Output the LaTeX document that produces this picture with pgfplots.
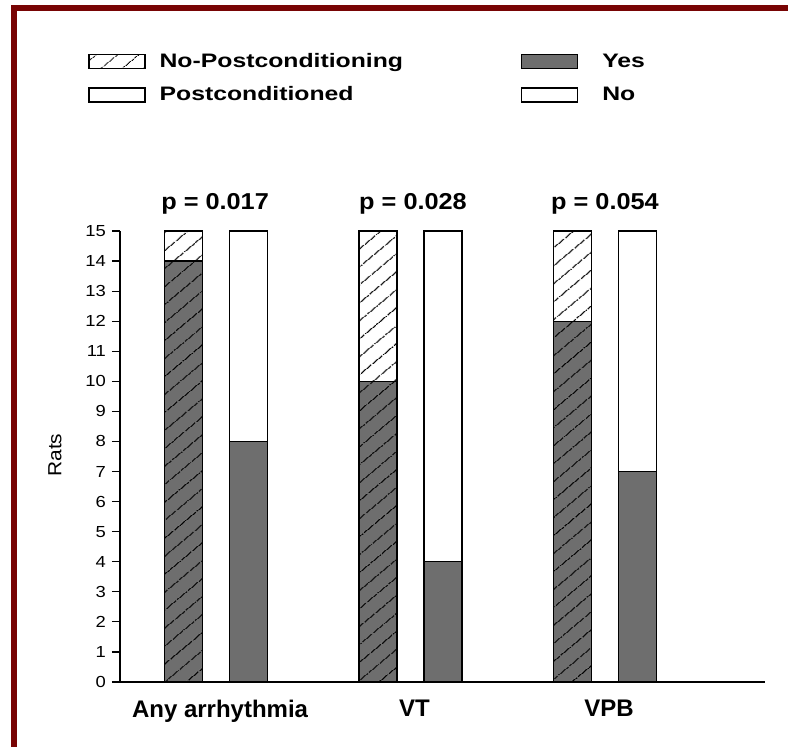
\documentclass[border=0pt]{standalone}
\usepackage{pgfplots}
\pgfplotsset{compat=1.18}
\usepackage{pgfplotstable}
\usepackage{fontspec}
\setmainfont{Liberation Sans}
\newfontfamily\legfont[FakeStretch=1.27]{Liberation Sans}
\newfontfamily\pfont[FakeStretch=1.1]{Liberation Sans}
\newfontfamily\tickfont[FakeStretch=1.15]{Liberation Sans}
\newfontfamily\labfont[FakeStretch=1.1]{Liberation Sans}
\usetikzlibrary{patterns.meta}
\definecolor{frame}{RGB}{120,4,4}
\definecolor{bargray}{RGB}{110,110,110}

\pgfplotstableread{
x yes no
1 14 1
2 10 5
3 12 3
}\nopost
\pgfplotstableread{
x yes no
1 8 7
2 4 11
3 7 8
}\post

\tikzset{hatch/.style={postaction={pattern={Lines[angle=40,distance=6.9pt,line width=0.55pt]},pattern color=black}}}

\begin{document}
\begin{tikzpicture}
\useasboundingbox (0,0) rectangle (394pt,-373.5pt);
\fill[white] (0,0) rectangle (394pt,-373.5pt);
\draw[frame, line width=3pt] (6.75pt,-373.5pt) -- (6.75pt,-4pt) -- (394pt,-4pt);
\begin{axis}[
  scale only axis, width=322.5pt, height=225.5pt,
  at={(60pt,-341pt)}, anchor=south west,
  xmin=0.506, xmax=3.823, ymin=0, ymax=15,
  axis x line*=bottom, axis y line*=left,
  axis line style={line width=0.7pt, -},
  ytick={0,1,...,15},
  xtick={1,2,3}, xticklabels={Any arrhythmia, VT, VPB},
  x tick style={draw=none},
  y tick style={line width=0.6pt, black},
  tick align=outside, major tick length=4pt,
  /pgf/number format/assume math mode=true,
  yticklabel style={font=\tickfont\fontsize{8}{8}\selectfont, xshift=0.5pt},
  xticklabel style={font=\bfseries\fontsize{12}{12}\selectfont, yshift=-1.5pt, xshift=2pt},
  ylabel={Rats},
  every axis y label/.style={at={(axis description cs:-0.1008,0.503)}, rotate=90, anchor=center, font=\labfont\fontsize{9.5}{9.5}\selectfont},
  clip=false,
  legend columns=2,
  legend cell align=left,
  legend image code/.code={\draw[#1] (0pt,-3.5pt) rectangle (28pt,3.5pt);},
  legend style={draw=none, fill=none, font=\legfont\bfseries\fontsize{9.75}{9.75}\selectfont,
    at={(axis description cs:-0.0589,1.4127)}, anchor=north west,
    row sep=4pt,
    /tikz/column 1/.style={column sep=5pt},
    /tikz/column 2/.style={column sep=57pt},
    /tikz/column 3/.style={column sep=10pt}},
]
\addlegendimage{fill=white, draw=black, line width=0.6pt, hatch}
\addlegendentry{No-Postconditioning}
\addlegendimage{fill=bargray, draw=black, line width=0.6pt}
\addlegendentry{Yes}
\addlegendimage{fill=white, draw=black, line width=0.6pt}
\addlegendentry{Postconditioned}
\addlegendimage{fill=white, draw=black, line width=0.6pt}
\addlegendentry{No}

\addplot[ybar, forget plot, bar width=19pt, bar shift=-16.25pt, fill=white, draw=black, line width=0.6pt, hatch]
  table[x=x, y expr=\thisrow{yes}+\thisrow{no}] {\nopost};
\addplot[ybar, forget plot, bar width=19pt, bar shift=-16.25pt, fill=bargray, draw=black, line width=0.6pt, hatch]
  table[x=x, y=yes] {\nopost};
\addplot[ybar, forget plot, bar width=19pt, bar shift=16.25pt, fill=white, draw=black, line width=0.6pt]
  table[x=x, y expr=\thisrow{yes}+\thisrow{no}] {\post};
\addplot[ybar, forget plot, bar width=19pt, bar shift=16.25pt, fill=bargray, draw=black, line width=0.6pt]
  table[x=x, y=yes] {\post};

\node[font=\pfont\bfseries\fontsize{11.5}{11.5}\selectfont] at (axis cs:0.995,15.9) {p = 0.017};
\node[font=\pfont\bfseries\fontsize{11.5}{11.5}\selectfont] at (axis cs:2.013,15.9) {p = 0.028};
\node[font=\pfont\bfseries\fontsize{11.5}{11.5}\selectfont] at (axis cs:3.0,15.9) {p = 0.054};
\end{axis}
\end{tikzpicture}
\end{document}
